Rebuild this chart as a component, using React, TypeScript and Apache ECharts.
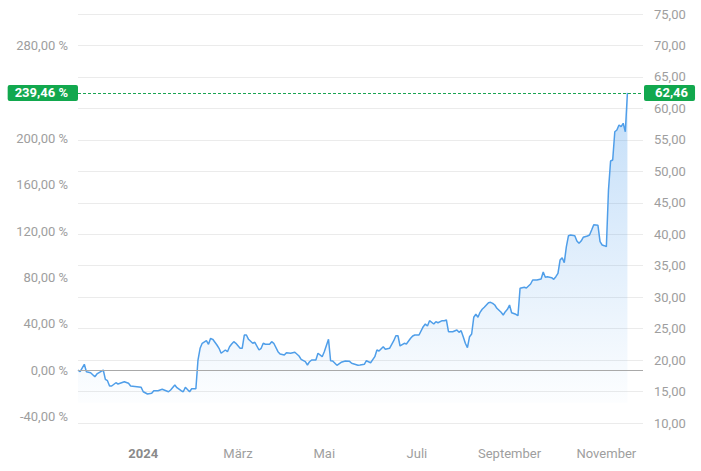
import React, { useEffect, useRef } from "react";
import * as echarts from "echarts";

// trading-day index since the first data point
const days = [
  0, 1, 3, 4, 6, 8, 9, 12, 13, 14, 15, 16, 18, 19, 22, 24, 25, 28, 30, 31, 33, 35, 36, 38, 40, 43, 44, 46, 47, 49,
  50, 51, 53, 54, 56, 57, 58, 59, 61, 62, 63, 64, 66, 67, 68, 70, 71, 72, 73, 74, 75, 77, 78, 79, 80, 81, 83, 84,
  86, 87, 88, 89, 91, 92, 93, 95, 96, 98, 99, 101, 103, 105, 106, 108, 109, 110, 111, 113, 114, 116, 117, 119, 120,
  121, 123, 125, 127, 129, 130, 133, 134, 136, 137, 139, 141, 142, 143, 145, 146, 148, 150, 151, 152, 153, 155, 156,
  158, 159, 160, 162, 164, 165, 166, 167, 169, 170, 171, 173, 174, 175, 176, 178, 180, 181, 182, 183, 184, 185, 186,
  187, 188, 189, 190, 191, 192, 193, 195, 196, 197, 198, 199, 201, 202, 203, 204, 205, 206, 208, 209, 210, 212, 213,
  215, 216, 218, 220, 221, 222, 223, 225, 226, 227, 228, 229, 230, 231, 232, 233, 234, 236, 237, 238, 239, 240, 242,
  243, 244, 245, 247, 248, 249, 250, 251, 252, 253, 254, 255, 256, 257, 258, 259, 260, 261,
];
const prices = [
  18.4, 18.15, 19.33, 18.15, 17.99, 17.36, 17.79, 18.42, 16.94, 16.72, 15.88, 15.88, 16.4, 16.2, 16.56, 16.31, 15.88,
  15.77, 15.67, 14.97, 14.61, 14.72, 15.13, 15.13, 15.36, 14.97, 15.25, 16.04, 15.61, 15.13, 14.97, 15.67, 14.97,
  15.45, 15.45, 20.01, 21.87, 22.67, 23.08, 22.51, 23.46, 23.3, 22.4, 21.87, 21.08, 21.6, 21.33, 22.13, 22.56, 22.92,
  22.67, 21.87, 21.87, 23.98, 23.98, 23.3, 22.67, 22.83, 21.6, 21.87, 22.67, 22.51, 22.51, 22.92, 22.67, 21.33, 20.97,
  20.81, 21.17, 21.08, 21.24, 20.65, 20.12, 19.74, 19.22, 19.74, 20.01, 20.01, 21.08, 20.54, 21.33, 23.3, 19.9, 19.85,
  19.17, 19.65, 19.85, 19.8, 19.49, 19.17, 19.22, 19.33, 19.9, 19.58, 20.54, 21.6, 21.44, 22.13, 21.71, 21.87, 23.08,
  23.87, 23.87, 22.24, 22.67, 22.56, 23.46, 23.83, 23.98, 23.98, 25.31, 25.73, 25.42, 26.26, 25.73, 26.1, 25.94, 26.26,
  26.26, 26.37, 24.51, 24.51, 24.78, 24.41, 24.67, 23.72, 22.67, 21.97, 23.72, 24.14, 26.8, 27.28, 26.8, 27.59, 28.07,
  28.39, 29.12, 29.18, 29.02, 28.75, 28.23, 27.59, 27.16, 27.69, 28.07, 28.75, 27.53, 27.28, 27.05, 31.41, 31.57,
  31.46, 32.09, 32.73, 32.73, 32.89, 34.0, 33.16, 33.25, 33.09, 32.84, 33.25, 33.79, 35.9, 36.27, 35.48, 38.02, 39.77,
  39.88, 39.77, 38.92, 38.56, 38.92, 39.51, 39.72, 39.88, 40.67, 41.51, 41.42, 38.81, 38.29, 38.18, 38.02,
  47.03, 51.64, 51.8, 56.29, 56.56, 57.36, 57.09, 57.63, 56.29, 62.46,
];

const monthTicks = [31, 76, 117, 161, 205, 251];
const monthLabels = ["2024", "März", "Mai", "Juli", "September", "November"];
const pctTicks = [-40, 0, 40, 80, 120, 160, 200, 280];

const priceMin = 10;
const priceMax = 75;
const priceStep = 5;
const xMax = 268.4;

const GREEN = "#12a84e";
const DOTTED = "#1aa352";
const LINE = "#4f9ee9";
const LABEL = "#9e9e9e";

const fmt = (v: number) => v.toFixed(2).replace(".", ",");

export default function App() {
  const ref = useRef<HTMLDivElement>(null);
  useEffect(() => {
    document.body.style.margin = "0";
    if (!ref.current) return;
    const chart = echarts.init(ref.current, null, { renderer: "svg" });
    const base = prices[0];
    const last = prices[prices.length - 1];
    const toPct = (p: number) => (p / base - 1) * 100;
    const font = "Roboto";
    const boxLabel = {
      show: true,
      backgroundColor: GREEN,
      color: "#fff",
      fontWeight: "bold",
      fontSize: 13,
      fontFamily: font,
      lineHeight: 14,
      borderRadius: 2,
    };
    chart.setOption({
      animation: false,
      textStyle: { fontFamily: font },
      grid: { left: 78, right: 58, top: 14, bottom: 48 },
      xAxis: {
        type: "value",
        min: 0,
        max: xMax,
        splitLine: { show: false },
        axisLine: { show: false },
        axisTick: { show: false },
        axisLabel: {
          customValues: monthTicks,
          margin: 24,
          fontSize: 13,
          color: LABEL,
          fontFamily: font,
          formatter: (v: number) => {
            const i = monthTicks.indexOf(v);
            if (i < 0) return "";
            return i === 0 ? `{b|${monthLabels[i]}}` : monthLabels[i];
          },
          rich: { b: { fontWeight: "bold", color: "#8a8a8a", fontSize: 13, fontFamily: font } },
        },
      },
      yAxis: [
        {
          type: "value",
          position: "right",
          min: priceMin,
          max: priceMax,
          interval: priceStep,
          axisLine: { show: false },
          axisTick: { show: false },
          splitLine: { lineStyle: { color: "#ebebeb", width: 1 } },
          axisLabel: { margin: 11, fontSize: 13, color: LABEL, fontFamily: font, formatter: (v: number) => fmt(v) },
        },
        {
          type: "value",
          position: "left",
          min: toPct(priceMin),
          max: toPct(priceMax),
          axisLine: { show: false },
          axisTick: { show: false },
          splitLine: { show: false },
          axisLabel: {
            customValues: pctTicks,
            margin: 10,
            fontSize: 13,
            color: LABEL,
            fontFamily: font,
            formatter: (v: number) => fmt(v) + " %",
          },
        },
      ],
      series: [
        {
          type: "line",
          yAxisIndex: 0,
          data: days.map((d, i) => [d, prices[i]]),
          showSymbol: false,
          symbol: "none",
          lineStyle: { color: LINE, width: 1.5 },
          areaStyle: {
            origin: 13.2,
            color: new echarts.graphic.LinearGradient(0, 0, 0, 1, [
              { offset: 0, color: "rgba(74,155,235,0.48)" },
              { offset: 1, color: "rgba(74,155,235,0.02)" },
            ]),
          },
          markLine: {
            silent: true,
            symbol: ["none", "none"],
            data: [
              {
                yAxis: base,
                lineStyle: { color: "#a9a9a9", type: "solid", width: 1 },
                label: { show: false },
              },
              {
                yAxis: last,
                lineStyle: { color: DOTTED, type: [3, 2], width: 1 },
                label: {
                  ...boxLabel,
                  position: "start",
                  distance: 0,
                  formatter: fmt(toPct(last)) + " %",
                  padding: [1, 10, 1, 7],
                },
              },
              {
                yAxis: last,
                lineStyle: { color: DOTTED, type: [3, 2], width: 1 },
                label: {
                  ...boxLabel,
                  position: "end",
                  distance: 1,
                  formatter: fmt(last),
                  padding: [1, 7, 1, 11],
                },
              },
            ],
          },
        },
      ],
    });
    return () => chart.dispose();
  }, []);
  return <div ref={ref} style={{ width: 701, height: 471 }} />;
}
